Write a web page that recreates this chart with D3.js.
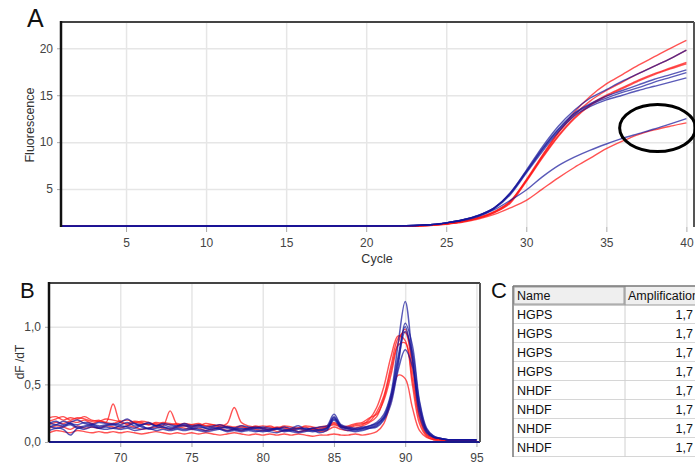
<!DOCTYPE html>
<html>
<head>
<meta charset="utf-8">
<script src="https://cdn.jsdelivr.net/npm/d3@7"></script>
<style>
    body { margin: 0; background: #fff; }
    svg { display: block; font-family: "Liberation Sans", Arial, sans-serif; }
    .tick text { fill: #444; font-size: 12px; }
    .grid line { stroke: #e6e6e6; stroke-width: 1.5px; }
    .grid .domain { display: none; }
    .axis .domain { display: none; }
    .axis .tick line { stroke: #aaa; }
</style>
</head>
<body>
<div id="chart"></div>
<script>

/* ---- panel A: amplification ---- */
const ampCycles = [1, 22, 24, 25, 26, 27, 28, 29, 30, 31, 32, 33, 34, 35, 36, 37, 38, 39, 40];

const ampRed = [
    [1.05, 1.06, 1.15, 1.3, 1.55, 1.95, 2.6, 3.7, 5.9, 8.5, 11.0, 13.2, 14.9, 16.2, 17.2, 18.2, 19.1, 20.0, 20.85],
    [1.05, 1.06, 1.15, 1.3, 1.55, 1.95, 2.6, 3.7, 6.0, 8.6, 11.0, 12.9, 14.4, 15.5, 16.4, 17.3, 18.1, 18.9, 19.8],
    [1.05, 1.06, 1.15, 1.3, 1.55, 1.9, 2.5, 3.6, 5.9, 8.4, 10.7, 12.6, 14.0, 15.0, 15.8, 16.6, 17.3, 17.9, 18.5],
    [1.05, 1.06, 1.15, 1.3, 1.5, 1.9, 2.5, 3.5, 5.8, 8.3, 10.6, 12.5, 13.9, 14.9, 15.7, 16.5, 17.2, 17.8, 18.35],
    [1.05, 1.06, 1.12, 1.25, 1.45, 1.8, 2.3, 3.0, 3.8, 5.0, 6.2, 7.3, 8.3, 9.3, 10.1, 10.8, 11.3, 11.7, 12.05]
];

const ampBlue = [
    [1.05, 1.08, 1.2, 1.4, 1.7, 2.2, 3.0, 4.6, 7.0, 9.5, 11.7, 13.4, 14.7, 15.6, 16.5, 17.3, 18.1, 18.9, 19.8],
    [1.05, 1.08, 1.2, 1.4, 1.7, 2.2, 3.0, 4.5, 6.8, 9.2, 11.3, 13.0, 14.0, 14.7, 15.3, 15.8, 16.4, 16.9, 17.4],
    [1.05, 1.08, 1.2, 1.4, 1.65, 2.1, 2.9, 4.4, 6.7, 9.0, 11.1, 12.8, 13.8, 14.5, 15.0, 15.5, 15.95, 16.4, 16.85],
    [1.05, 1.08, 1.2, 1.4, 1.7, 2.2, 3.0, 4.6, 6.9, 9.3, 11.4, 13.1, 14.1, 14.9, 15.5, 16.1, 16.7, 17.2, 17.7],
    [1.05, 1.08, 1.2, 1.4, 1.7, 2.1, 2.8, 3.8, 4.9, 6.3, 7.5, 8.4, 9.15, 9.8, 10.4, 10.9, 11.4, 11.95, 12.5]
];

const ampXTicks = [5, 10, 15, 20, 25, 30, 35, 40];
const ampYTicks = [5, 10, 15, 20];

// circled region (cycle, fluorescence, half-widths in data units)
const markCycle = 38.2, markFluor = 11.5, markRx = 2.37, markRy = 2.5;

/* ---- panel B: melt curves ---- */
const meltTemps = [
    65, 65.5, 66, 66.5, 67, 67.5, 68, 68.5, 69, 69.5,
    70, 70.5, 71, 71.5, 72, 72.5, 73, 73.5, 74, 74.5,
    75, 75.5, 76, 76.5, 77, 77.5, 78, 78.5, 79, 79.5,
    80, 80.5, 81, 81.5, 82, 82.5, 83, 83.5, 84, 84.5,
    85, 85.5, 86, 86.5, 87, 87.5, 88, 88.5, 89, 89.5,
    90, 90.5, 91, 91.5, 92, 92.5, 93, 93.5, 94, 94.5,
    95
];

const meltRed = [
    [0.18, 0.20, 0.22, 0.19, 0.21, 0.20, 0.18, 0.19, 0.17, 0.33,
     0.17, 0.16, 0.18, 0.17, 0.15, 0.17, 0.16, 0.15, 0.16, 0.14,
     0.15, 0.16, 0.14, 0.15, 0.13, 0.14, 0.13, 0.14, 0.12, 0.13,
     0.12, 0.14, 0.12, 0.13, 0.11, 0.12, 0.13, 0.11, 0.13, 0.14,
     0.17, 0.14, 0.13, 0.15, 0.16, 0.18, 0.26, 0.40, 0.66, 0.90,
     0.95, 0.62, 0.22, 0.07, 0.03, 0.02, 0.02, 0.01, 0.02, 0.01,
     0.01],
    [0.15, 0.17, 0.16, 0.18, 0.17, 0.19, 0.16, 0.18, 0.17, 0.16,
     0.18, 0.15, 0.17, 0.16, 0.15, 0.16, 0.14, 0.27, 0.15, 0.14,
     0.13, 0.15, 0.14, 0.13, 0.15, 0.13, 0.12, 0.13, 0.12, 0.14,
     0.12, 0.11, 0.13, 0.12, 0.11, 0.12, 0.10, 0.12, 0.11, 0.13,
     0.16, 0.13, 0.12, 0.14, 0.15, 0.20, 0.30, 0.48, 0.74, 0.92,
     0.88, 0.50, 0.16, 0.05, 0.02, 0.02, 0.01, 0.02, 0.01, 0.01,
     0.01],
    [0.21, 0.22, 0.19, 0.21, 0.20, 0.22, 0.19, 0.18, 0.20, 0.19,
     0.18, 0.19, 0.17, 0.18, 0.17, 0.15, 0.17, 0.16, 0.15, 0.16,
     0.15, 0.14, 0.16, 0.15, 0.14, 0.16, 0.30, 0.17, 0.14, 0.13,
     0.14, 0.13, 0.12, 0.14, 0.13, 0.12, 0.14, 0.13, 0.12, 0.13,
     0.15, 0.13, 0.14, 0.16, 0.17, 0.21, 0.24, 0.36, 0.58, 0.86,
     0.98, 0.70, 0.28, 0.09, 0.04, 0.02, 0.02, 0.01, 0.01, 0.02,
     0.01],
    [0.12, 0.14, 0.13, 0.11, 0.14, 0.12, 0.13, 0.12, 0.14, 0.13,
     0.12, 0.14, 0.13, 0.11, 0.12, 0.13, 0.12, 0.11, 0.13, 0.12,
     0.11, 0.12, 0.10, 0.11, 0.12, 0.10, 0.11, 0.10, 0.12, 0.11,
     0.10, 0.11, 0.09, 0.10, 0.11, 0.09, 0.10, 0.11, 0.09, 0.10,
     0.13, 0.11, 0.10, 0.12, 0.14, 0.17, 0.22, 0.38, 0.62, 0.84,
     0.86, 0.55, 0.20, 0.06, 0.03, 0.02, 0.01, 0.01, 0.02, 0.01,
     0.01],
    [0.08, 0.10, 0.09, 0.08, 0.10, 0.09, 0.08, 0.09, 0.08, 0.09,
     0.08, 0.09, 0.08, 0.07, 0.08, 0.09, 0.08, 0.07, 0.08, 0.07,
     0.08, 0.07, 0.08, 0.07, 0.06, 0.07, 0.08, 0.07, 0.06, 0.07,
     0.06, 0.07, 0.06, 0.07, 0.06, 0.07, 0.06, 0.05, 0.06, 0.06,
     0.07, 0.06, 0.06, 0.07, 0.06, 0.07, 0.09, 0.16, 0.36, 0.58,
     0.55, 0.30, 0.10, 0.04, 0.02, 0.01, 0.01, 0.01, 0.01, 0.01,
     0.01]
];

const meltBlue = [
    [0.16, 0.18, 0.15, 0.17, 0.19, 0.16, 0.15, 0.17, 0.16, 0.15,
     0.17, 0.20, 0.16, 0.15, 0.17, 0.14, 0.16, 0.15, 0.14, 0.16,
     0.14, 0.15, 0.13, 0.14, 0.15, 0.13, 0.12, 0.14, 0.13, 0.12,
     0.13, 0.12, 0.11, 0.13, 0.12, 0.14, 0.11, 0.12, 0.13, 0.14,
     0.24, 0.15, 0.13, 0.12, 0.13, 0.14, 0.17, 0.24, 0.42, 0.85,
     1.22, 0.75, 0.24, 0.08, 0.04, 0.03, 0.02, 0.02, 0.02, 0.02,
     0.02],
    [0.13, 0.15, 0.14, 0.16, 0.13, 0.14, 0.15, 0.13, 0.14, 0.15,
     0.13, 0.14, 0.16, 0.13, 0.12, 0.14, 0.13, 0.12, 0.13, 0.14,
     0.12, 0.13, 0.12, 0.11, 0.13, 0.12, 0.11, 0.12, 0.11, 0.12,
     0.11, 0.10, 0.12, 0.11, 0.10, 0.11, 0.12, 0.10, 0.11, 0.12,
     0.21, 0.13, 0.12, 0.11, 0.12, 0.13, 0.15, 0.22, 0.40, 0.74,
     1.00, 0.72, 0.28, 0.09, 0.04, 0.03, 0.02, 0.02, 0.02, 0.02,
     0.02],
    [0.10, 0.12, 0.11, 0.06, 0.12, 0.11, 0.13, 0.12, 0.11, 0.12,
     0.11, 0.12, 0.10, 0.11, 0.12, 0.10, 0.11, 0.10, 0.11, 0.10,
     0.11, 0.10, 0.09, 0.10, 0.11, 0.09, 0.10, 0.09, 0.10, 0.09,
     0.10, 0.09, 0.08, 0.10, 0.09, 0.08, 0.09, 0.10, 0.08, 0.10,
     0.19, 0.12, 0.10, 0.09, 0.10, 0.12, 0.14, 0.20, 0.38, 0.70,
     0.96, 0.78, 0.34, 0.11, 0.05, 0.03, 0.02, 0.02, 0.02, 0.02,
     0.02],
    [0.14, 0.12, 0.13, 0.15, 0.12, 0.13, 0.14, 0.12, 0.13, 0.12,
     0.14, 0.13, 0.12, 0.14, 0.11, 0.12, 0.13, 0.11, 0.12, 0.11,
     0.12, 0.11, 0.10, 0.12, 0.11, 0.10, 0.11, 0.10, 0.11, 0.10,
     0.09, 0.10, 0.11, 0.09, 0.10, 0.09, 0.10, 0.09, 0.10, 0.11,
     0.20, 0.14, 0.11, 0.10, 0.11, 0.12, 0.13, 0.19, 0.33, 0.62,
     0.80, 0.66, 0.30, 0.10, 0.04, 0.03, 0.02, 0.02, 0.02, 0.02,
     0.02],
    [0.17, 0.15, 0.18, 0.16, 0.15, 0.17, 0.16, 0.14, 0.15, 0.16,
     0.15, 0.17, 0.14, 0.15, 0.16, 0.14, 0.15, 0.13, 0.14, 0.15,
     0.13, 0.14, 0.12, 0.13, 0.12, 0.13, 0.12, 0.11, 0.12, 0.13,
     0.12, 0.11, 0.12, 0.10, 0.11, 0.12, 0.11, 0.12, 0.10, 0.12,
     0.22, 0.14, 0.12, 0.11, 0.12, 0.14, 0.16, 0.21, 0.36, 0.66,
     1.03, 0.84, 0.36, 0.12, 0.05, 0.03, 0.02, 0.02, 0.02, 0.02,
     0.02]
];

const meltXTicks = [70, 75, 80, 85, 90, 95];
const meltYTicks = [0, 0.5, 1.0];

/* ---- panel C: table ---- */
const tableHeader = ["Name", "Amplification"];
const sampleNames = ["HGPS", "HGPS", "HGPS", "HGPS", "NHDF", "NHDF", "NHDF", "NHDF"];
const amplification = ["1,7", "1,7", "1,7", "1,7", "1,7", "1,7", "1,7", "1,7"];


const RED = "#ff1a1a", BLUE = "#14149a";
const commaFmt = d3.formatLocale({decimal: ",", thousands: ".", grouping: [3], currency: ["", ""]}).format(".1f");

const svg = d3.select("#chart").append("svg")
    .attr("width", 695)
    .attr("height", 466);

function panelLetter(txt, x, y, size) {
    svg.append("text")
        .attr("x", x).attr("y", y)
        .attr("font-size", size + "px")
        .attr("fill", "#111")
        .text(txt);
}

function frame(g, l, t, r, b) {
    g.append("line").attr("x1", l).attr("x2", r).attr("y1", t).attr("y2", t)
        .attr("stroke", "#444").attr("stroke-width", 2);
    g.append("line").attr("x1", r).attr("x2", r).attr("y1", t).attr("y2", b)
        .attr("stroke", "#555").attr("stroke-width", 2);
    g.append("line").attr("x1", l).attr("x2", l).attr("y1", t - 1).attr("y2", b)
        .attr("stroke", "#111").attr("stroke-width", 2.5);
}

/* * * * panel A * * * */
class AmpChart {
    constructor() { this.initVis(); }

    initVis() {
        let vis = this;
        vis.l = 61; vis.t = 22; vis.r = 694; vis.b = 227;

        vis.x = d3.scaleLinear().domain([1, 40.45]).range([62, 693.6]);
        vis.y = d3.scaleLinear().domain([0.96, 22.8]).range([vis.b, vis.t]);

        vis.g = svg.append("g");

        // grid
        vis.g.append("g").attr("class", "grid")
            .attr("transform", `translate(0,${vis.b})`)
            .call(d3.axisBottom(vis.x).tickValues(ampXTicks).tickSize(-(vis.b - vis.t)).tickFormat(""));
        vis.g.append("g").attr("class", "grid")
            .attr("transform", `translate(${vis.l},0)`)
            .call(d3.axisLeft(vis.y).tickValues(ampYTicks).tickSize(-(vis.r - vis.l)).tickFormat(""));

        // axes
        vis.g.append("g").attr("class", "axis")
            .attr("transform", `translate(0,${vis.b})`)
            .call(d3.axisBottom(vis.x).tickValues(ampXTicks).tickSize(5).tickPadding(6));
        vis.g.append("g").attr("class", "axis")
            .attr("transform", `translate(${vis.l},0)`)
            .call(d3.axisLeft(vis.y).tickValues(ampYTicks).tickSize(4).tickPadding(4));

        vis.g.append("clipPath").attr("id", "clipA")
            .append("rect").attr("x", vis.l).attr("y", vis.t)
            .attr("width", vis.r - vis.l).attr("height", vis.b - vis.t + 1);

        vis.line = d3.line()
            .x((d, i) => vis.x(ampCycles[i]))
            .y(d => vis.y(d))
            .curve(d3.curveMonotoneX);

        let lines = vis.g.append("g").attr("clip-path", "url(#clipA)");
        lines.selectAll(".red").data(ampRed).enter().append("path")
            .attr("class", "red")
            .attr("d", vis.line)
            .attr("fill", "none").attr("stroke", RED)
            .attr("stroke-opacity", 0.75).attr("stroke-width", 1.4);
        lines.selectAll(".blue").data(ampBlue).enter().append("path")
            .attr("class", "blue")
            .attr("d", vis.line)
            .attr("fill", "none").attr("stroke", BLUE)
            .attr("stroke-opacity", 0.7).attr("stroke-width", 1.4);

        frame(vis.g, vis.l, vis.t, vis.r, vis.b);

        // circled region
        vis.g.append("ellipse")
            .attr("cx", vis.x(markCycle))
            .attr("cy", vis.y(markFluor))
            .attr("rx", vis.x(markCycle + markRx) - vis.x(markCycle))
            .attr("ry", vis.y(markFluor) - vis.y(markFluor + markRy))
            .attr("fill", "none").attr("stroke", "#000").attr("stroke-width", 3);

        vis.g.append("text")
            .attr("x", 377).attr("y", 263)
            .attr("text-anchor", "middle").attr("font-size", "12.5px").attr("fill", "#333")
            .text("Cycle");
        vis.g.append("text")
            .attr("transform", "translate(34,125) rotate(-90)")
            .attr("text-anchor", "middle").attr("font-size", "12.5px").attr("fill", "#333")
            .text("Fluorescence");

        panelLetter("A", 27, 27, 25);
    }
}

/* * * * panel B * * * */
class MeltChart {
    constructor() { this.initVis(); }

    initVis() {
        let vis = this;
        vis.l = 49; vis.t = 283; vis.r = 480; vis.b = 442;

        vis.x = d3.scaleLinear().domain([65, 95.25]).range([vis.l, vis.r]);
        vis.y = d3.scaleLinear().domain([0, 1.38]).range([vis.b, vis.t]);

        vis.g = svg.append("g");

        vis.g.append("g").attr("class", "grid")
            .attr("transform", `translate(0,${vis.b})`)
            .call(d3.axisBottom(vis.x).tickValues(meltXTicks).tickSize(-(vis.b - vis.t)).tickFormat(""));
        vis.g.append("g").attr("class", "grid")
            .attr("transform", `translate(${vis.l},0)`)
            .call(d3.axisLeft(vis.y).tickValues([0.5, 1.0]).tickSize(-(vis.r - vis.l)).tickFormat(""));

        vis.g.append("g").attr("class", "axis")
            .attr("transform", `translate(0,${vis.b})`)
            .call(d3.axisBottom(vis.x).tickValues(meltXTicks).tickSize(5).tickPadding(6));
        vis.g.append("g").attr("class", "axis")
            .attr("transform", `translate(${vis.l},0)`)
            .call(d3.axisLeft(vis.y).tickValues(meltYTicks).tickSize(4).tickPadding(4).tickFormat(commaFmt));

        vis.g.append("clipPath").attr("id", "clipB")
            .append("rect").attr("x", vis.l).attr("y", vis.t)
            .attr("width", vis.r - vis.l).attr("height", vis.b - vis.t);

        vis.line = d3.line()
            .x((d, i) => vis.x(meltTemps[i]))
            .y(d => vis.y(d))
            .curve(d3.curveCatmullRom.alpha(0.5));

        let lines = vis.g.append("g").attr("clip-path", "url(#clipB)");
        lines.selectAll(".red").data(meltRed).enter().append("path")
            .attr("class", "red")
            .attr("d", vis.line)
            .attr("fill", "none").attr("stroke", RED)
            .attr("stroke-opacity", 0.75).attr("stroke-width", 1.4);
        lines.selectAll(".blue").data(meltBlue).enter().append("path")
            .attr("class", "blue")
            .attr("d", vis.line)
            .attr("fill", "none").attr("stroke", BLUE)
            .attr("stroke-opacity", 0.7).attr("stroke-width", 1.5);

        // zero line
        vis.g.append("line")
            .attr("x1", vis.l).attr("x2", vis.r)
            .attr("y1", vis.y(0)).attr("y2", vis.y(0))
            .attr("stroke", "#1a1a8a").attr("stroke-width", 2);

        frame(vis.g, vis.l, vis.t, vis.r, vis.b);

        vis.g.append("text")
            .attr("transform", "translate(24,362) rotate(-90)")
            .attr("text-anchor", "middle").attr("font-size", "12px").attr("fill", "#333")
            .text("dF /dT");

        panelLetter("B", 20, 298, 22);
    }
}

/* * * * panel C * * * */
function drawTable() {
    let g = svg.append("g");
    let left = 513, top = 286, rowH = 19, colX = 625, right = 700;
    let rows = sampleNames.map((n, i) => ({name: n, amp: amplification[i]}));
    let bottom = top + rowH * (rows.length + 1);

    // header
    g.append("rect").attr("x", left).attr("y", top).attr("width", right - left).attr("height", rowH)
        .attr("fill", "#efefef");
    g.append("rect").attr("x", left + 1).attr("y", top + 1).attr("width", colX - left - 2).attr("height", rowH - 2)
        .attr("fill", "none").attr("stroke", "#9a9a9a").attr("stroke-width", 1);
    g.append("line").attr("x1", colX).attr("x2", colX).attr("y1", top).attr("y2", top + rowH)
        .attr("stroke", "#888");
    g.selectAll(".hdr").data(tableHeader).enter().append("text")
        .attr("x", (d, i) => i === 0 ? left + 4 : colX + 3)
        .attr("y", top + 14)
        .attr("font-size", "12.5px").attr("fill", "#111")
        .text(d => d);

    // body
    g.selectAll(".rowline").data(rows).enter().append("line")
        .attr("x1", left).attr("x2", right)
        .attr("y1", (d, i) => top + rowH * (i + 2) - 0.5)
        .attr("y2", (d, i) => top + rowH * (i + 2) - 0.5)
        .attr("stroke", "#d6d6d6");
    g.append("line").attr("x1", colX).attr("x2", colX).attr("y1", top + rowH).attr("y2", bottom)
        .attr("stroke", "#d0d0d0");

    g.selectAll(".nm").data(rows).enter().append("text")
        .attr("x", left + 4)
        .attr("y", (d, i) => top + rowH * (i + 1) + 14)
        .attr("font-size", "12.5px").attr("fill", "#111")
        .text(d => d.name);
    g.selectAll(".amp").data(rows).enter().append("text")
        .attr("x", 693)
        .attr("text-anchor", "end")
        .attr("y", (d, i) => top + rowH * (i + 1) + 14)
        .attr("font-size", "12.5px").attr("fill", "#111")
        .text(d => d.amp);

    // outer border
    g.append("line").attr("x1", left).attr("x2", right).attr("y1", top).attr("y2", top)
        .attr("stroke", "#777").attr("stroke-width", 1.5);
    g.append("line").attr("x1", left).attr("x2", left).attr("y1", top).attr("y2", bottom)
        .attr("stroke", "#777").attr("stroke-width", 1.5);
    g.append("line").attr("x1", left).attr("x2", right).attr("y1", top + rowH).attr("y2", top + rowH)
        .attr("stroke", "#999");

    panelLetter("C", 491, 298, 22);
}

new AmpChart();
new MeltChart();
drawTable();

</script>
</body>
</html>
